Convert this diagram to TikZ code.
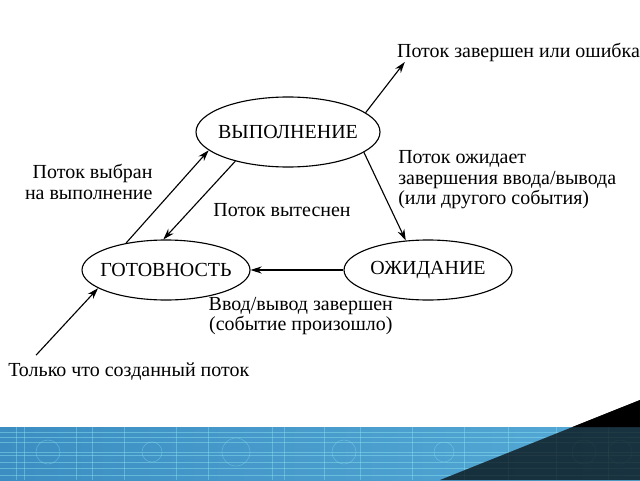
\documentclass[tikz,border=0pt]{standalone}
\usepackage{fontspec}
\setmainfont{Liberation Serif}
\usepackage{tikz}
\usetikzlibrary{arrows.meta, positioning, shapes.geometric}
\definecolor{banner}{HTML}{3C8EC2}
\definecolor{bannerlight}{HTML}{55AAD6}
\definecolor{wire}{HTML}{8FE6F2}

\begin{document}
\begin{tikzpicture}[
    font=\fontsize{14.2}{14.6}\selectfont,
    state/.style={draw, ellipse, line width=0.8pt, inner sep=0pt,
      minimum width=4.2cm, minimum height=1.5cm},
    arr/.style={-{Stealth[length=2.8mm, width=1.8mm]}, line width=0.8pt},
    lbl/.style={align=left, inner sep=0pt}
  ]
  \useasboundingbox (0,0) rectangle (16,12);
  % states
  \node[state, minimum width=4.6cm, minimum height=1.75cm] (vyp) at (7.2,8.7)
    {\makebox[0pt]{ВЫПОЛНЕНИЕ}};
  \node[state] (got) at (4.15,5.25) {\makebox[0pt]{ГОТОВНОСТЬ}};
  \node[state] (ozh) at (10.7,5.25) {\makebox[0pt]{ОЖИДАНИЕ}};
  % free ends
  \coordinate (fin) at (10.12,10.45);
  \coordinate (start) at (0.9,3.12);
  % transitions
  \draw[arr] (vyp.14) -- (fin);
  \draw[arr] (got.146) -- (vyp.193);
  \draw[arr] (vyp.209) -- (got.95);
  \draw[arr] (vyp.345) -- (ozh.127);
  \draw[arr] (ozh.west) -- (got.east);
  \draw[arr] (start) -- (got.195);
  % labels
  \node[lbl, anchor=west] (finlbl) at (9.92,10.7) {Поток завершен или ошибка};
  \node[lbl, anchor=east, align=right] (vybr) at (3.82,7.45)
    {Поток выбран\\на выполнение};
  \node[lbl] (vyt) at (7.05,6.75) {Поток вытеснен};
  \node[lbl, anchor=west] (ozhlbl) at (9.95,7.5)
    {Поток ожидает\\завершения ввода/вывода\\(или другого события)};
  \node[lbl, align=center] (zav) at (7.52,4.1)
    {Ввод/вывод завершен\\(событие произошло)};
  \node[lbl, anchor=west] (nov) at (0.2,2.7) {Только что созданный поток};
  % bottom banner
  \fill[left color=banner, right color=bannerlight] (0,0) rectangle (16,1.325);
  \foreach \y in {0.12,0.3,0.45,0.62,0.7,0.95,1.08,1.2}
    \draw[wire, opacity=0.45, line width=0.4pt] (0,\y) -- (16,\y);
  \foreach \x in {0.4,0.6,1.9,2.3,3.1,4.4,5.2,6.8,7.1,8.1,9.0,10.3,11.6,12.7,13.9,15.2}
    \draw[wire, opacity=0.4, line width=0.4pt] (\x,0) -- (\x,1.325);
  \foreach \x/\r in {1.2/0.3, 3.8/0.25, 5.9/0.35, 8.6/0.3, 11.1/0.25, 14.6/0.3, 15.5/0.3}
    \draw[wire, opacity=0.4, line width=0.4pt] (\x,0.7) circle (\r);
  \fill[black, opacity=0.7] (16,2.0) -- (11.0,0) -- (16,0) -- cycle;
  \fill[black] (16,2.0) -- (14.31,1.325) -- (16,1.325) -- cycle;
\end{tikzpicture}
\end{document}
